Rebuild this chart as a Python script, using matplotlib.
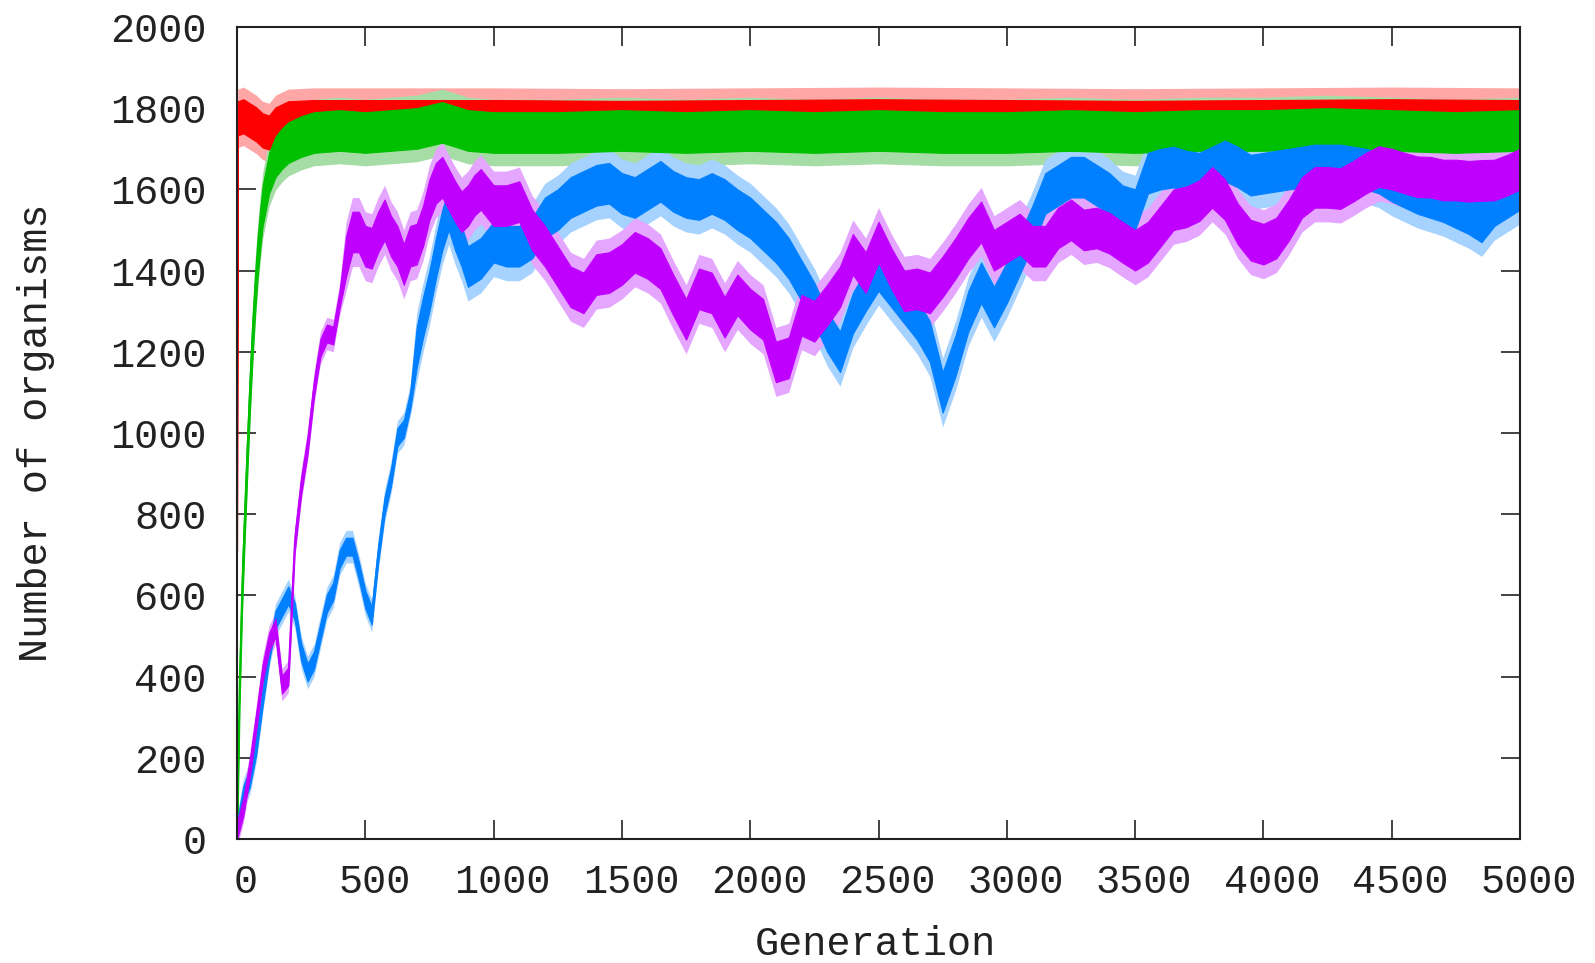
import numpy as np
import matplotlib
matplotlib.use("Agg")
import matplotlib.pyplot as plt
from matplotlib.transforms import ScaledTranslation

plt.rcParams['font.family'] = ['Liberation Mono', 'DejaVu Sans Mono']

# generation grid for the two slow-rising populations
grid = list(range(0, 1000, 25)) + list(range(1000, 5001, 50))

blue_n = [
    20, 110, 150, 230, 350, 460, 540, 570, 600, 560,
    460, 410, 440, 510, 580, 610, 690, 720, 720, 660,
    590, 550, 700, 820, 890, 990, 1010, 1080, 1210, 1285,
    1350, 1430, 1500, 1550, 1500, 1460, 1410, 1420, 1430, 1450,
    # 1000 onwards, every 50 generations
    1470, 1460, 1460, 1480, 1530, 1550, 1580, 1595, 1610, 1615,
    1590, 1580, 1600, 1620, 1595, 1580, 1575, 1590, 1575, 1550,
    1530, 1500, 1470, 1430, 1375, 1320, 1250, 1200, 1295, 1350,
    1400, 1360, 1320, 1280, 1225, 1100, 1190, 1300, 1370, 1310,
    1370, 1440, 1510, 1590, 1610, 1630, 1630, 1610, 1590, 1560,
    1550, 1640, 1650, 1655, 1645, 1640, 1655, 1670, 1655, 1635,
    1640, 1645, 1650, 1655, 1660, 1660, 1660, 1655, 1650, 1640,
    1620, 1605, 1590, 1580, 1570, 1555, 1540, 1520, 1560, 1580,
    1600,
]

purple_n = [
    20, 80, 175, 290, 410, 485, 520, 380, 400, 730,
    870, 970, 1110, 1210, 1245, 1240, 1330, 1435, 1495, 1495,
    1460, 1455, 1495, 1525, 1485, 1460, 1415, 1460, 1465, 1510,
    1575, 1615, 1630, 1600, 1570, 1545, 1560, 1585, 1600, 1580,
    # 1000 onwards, every 50 generations
    1560, 1560, 1570, 1500, 1460, 1410, 1360, 1345, 1390, 1395,
    1415, 1445, 1430, 1405, 1340, 1280, 1355, 1345, 1285, 1340,
    1305, 1280, 1175, 1185, 1290, 1275, 1315, 1360, 1440, 1395,
    1470, 1405, 1350, 1355, 1345, 1385, 1430, 1480, 1520, 1450,
    1470, 1490, 1460, 1460, 1505, 1525, 1500, 1505, 1492, 1470,
    1450, 1470, 1510, 1550, 1557, 1572, 1605, 1575, 1515, 1475,
    1465, 1480, 1525, 1580, 1605, 1605, 1602, 1620, 1640, 1656,
    1650, 1640, 1631, 1630, 1623, 1623, 1620, 1622, 1623, 1635,
    1650,
]

green_gen = [0, 5, 10, 20, 30, 40, 50, 60, 70, 80, 90, 100,
             125, 150, 175, 200, 250, 300,
             400, 500, 600, 700, 800, 900, 1000,
             1250, 1500, 1750, 2000, 2250, 2500, 2750, 3000,
             3250, 3500, 3750, 4000, 4250, 4500, 4750, 5000]
green_n = [0, 200, 380, 620, 790, 950, 1100, 1230, 1340, 1430, 1500, 1560,
           1640, 1680, 1700, 1715, 1730, 1740,
           1745, 1740, 1745, 1750, 1765, 1745, 1740,
           1740, 1745, 1740, 1745, 1740, 1745, 1740, 1740,
           1745, 1740, 1745, 1745, 1750, 1745, 1740, 1745]

red_gen = [0, 3, 25, 50, 75, 100, 125, 150, 200, 300, 500,
           1000, 1500, 2000, 2500, 3000, 3500, 4000, 4500, 5000]
red_n = [750, 1775, 1780, 1770, 1760, 1745, 1740, 1760, 1775, 1778, 1778,
         1778, 1776, 1778, 1780, 1778, 1776, 1778, 1780, 1778]

# scatter around each trace: dense core and the sparser outer spikes
red_spread = (42, 72)
green_spread = (50, 82)
early_spread = (22, 40)
late_spread = (50, 85)

fig = plt.figure(figsize=(15.95, 9.63), dpi=100)
ax = fig.add_axes([0.1486, 0.1288, 0.8044, 0.8432])


def draw(gen, n, core, outer, color, fringe, z):
    gen = np.asarray(gen, dtype=float)
    n = np.asarray(n, dtype=float)
    # outer spikes go under every trace, the dense core stacks in order
    ax.fill_between(gen, n - outer, n + outer, color=fringe, lw=0, zorder=1)
    ax.fill_between(gen, n - core, n + core, color=color, lw=0.8, zorder=z)
    ax.plot(gen, n, color=color, lw=1.2, zorder=z)


g = np.asarray(grid)
draw(red_gen, red_n, red_spread[0], red_spread[1],
     '#ff0000', '#ffa6a6', 2)
draw(green_gen, green_n, green_spread[0], green_spread[1],
     '#00c000', '#a6dda6', 3)
draw(grid, blue_n,
     np.where(g < 700, early_spread[0], late_spread[0]),
     np.where(g < 700, early_spread[1], late_spread[1]),
     '#0080ff', '#a6d2ff', 4)
draw(grid, purple_n,
     np.where(g < 420, early_spread[0], late_spread[0]),
     np.where(g < 420, early_spread[1], late_spread[1]),
     '#c000ff', '#e5a6ff', 5)

ax.set_xlim(0, 5000)
ax.set_ylim(0, 2000)
ax.set_xticks(range(0, 5001, 500))
ax.set_yticks(range(0, 2001, 200))

for s in ax.spines.values():
    s.set_linewidth(1.5)
    s.set_color('#222222')
    s.set_zorder(10)

ax.tick_params(direction='in', length=13.5, width=1.2, color='#222222',
               top=True, right=True, labelsize=29, labelcolor='#222222')
ax.tick_params(axis='y', pad=22)
ax.tick_params(axis='x', pad=17)

# x labels sit a little right of their ticks
shift = ScaledTranslation(9 / 100, 0, fig.dpi_scale_trans)
for lab in ax.get_xticklabels():
    lab.set_transform(lab.get_transform() + shift)

fig.text(875 / 1595, 1 - 944 / 963, 'Generation', ha='center', va='center',
         fontsize=29, color='#222222')
fig.text(36 / 1595, 1 - 433 / 963, 'Number of organisms', ha='center',
         va='center', rotation=90, fontsize=29, color='#222222')

fig.savefig('out.png', dpi=100)
